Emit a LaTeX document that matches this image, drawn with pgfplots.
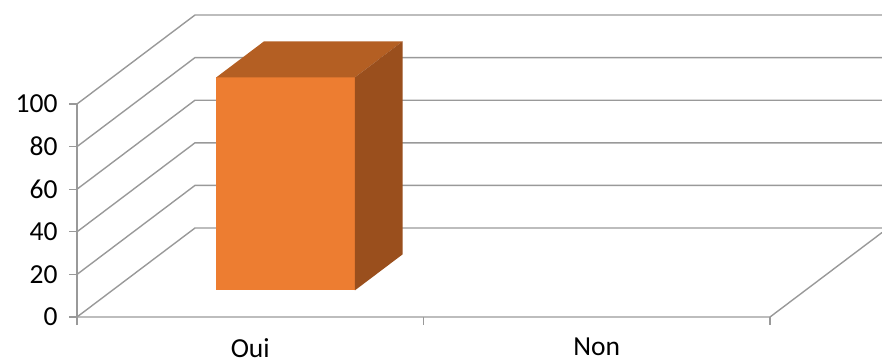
\documentclass[border=0pt]{standalone}
\usepackage{pgfplots}
\pgfplotsset{compat=1.18}
\usepackage{fontspec}
\setmainfont{Carlito}
\definecolor{gridc}{HTML}{999999}
\definecolor{barfront}{HTML}{ED7D31}
\definecolor{bartop}{HTML}{B45F23}
\definecolor{barside}{HTML}{9A4F1D}
\begin{document}
\begin{tikzpicture}
\useasboundingbox (-77pt,-41pt) rectangle (805pt,317pt);
\begin{axis}[
  at={(0,0)}, anchor=south west,
  scale only axis, width=805pt, height=317pt,
  xmin=0, xmax=2.3232, ymin=0, ymax=148.83,
  clip=false,
  axis lines=left, axis line style={draw=none},
  tick align=outside, major tick length=8pt,
  tick style={draw=gridc, line width=1.4pt},
  ytick={0,20,40,60,80,100},
  xtick={0,1,2}, xticklabels={},
  extra x ticks={0.5,1.5}, extra x tick labels={Oui,Non},
  extra x tick style={major tick length=0pt, xticklabel style={inner sep=0pt, yshift=-21pt}},
  /pgf/number format/assume math mode=true,
  ticklabel style={font=\fontsize{27.5}{32}\selectfont},
  yticklabel style={xshift=-8pt},
]
% left wall diagonals and back wall gridlines
\addplot[gridc, line width=1.4pt] coordinates {(0,0) (0.3405,41.78) (2.3232,41.78)};
\addplot[gridc, line width=1.4pt] coordinates {(0,20) (0.3405,61.78) (2.3232,61.78)};
\addplot[gridc, line width=1.4pt] coordinates {(0,40) (0.3405,81.78) (2.3232,81.78)};
\addplot[gridc, line width=1.4pt] coordinates {(0,60) (0.3405,101.78) (2.3232,101.78)};
\addplot[gridc, line width=1.4pt] coordinates {(0,80) (0.3405,121.78) (2.3232,121.78)};
\addplot[gridc, line width=1.4pt] coordinates {(0,100) (0.3405,141.78) (2.3232,141.78)};
% floor front edge and right floor edge
\addplot[gridc, line width=1.4pt] coordinates {(0,0) (2,0) (2.3232,39.66)};
% vertical axis
\addplot[gridc, line width=1.4pt] coordinates {(0,-3.76) (0,100)};
% bar Oui = 100 (front, top, side faces)
\addplot[draw=none, fill=barfront] coordinates {(0.4022,12.53) (0.8022,12.53) (0.8022,112.53) (0.4022,112.53)} -- cycle;
\addplot[draw=none, fill=bartop] coordinates {(0.4022,112.53) (0.8022,112.53) (0.9400,129.45) (0.5400,129.45)} -- cycle;
\addplot[draw=none, fill=barside] coordinates {(0.8022,12.53) (0.9400,29.45) (0.9400,129.45) (0.8022,112.53)} -- cycle;
% bar Non = 0 (no visible bar)
\end{axis}
\end{tikzpicture}
\end{document}
